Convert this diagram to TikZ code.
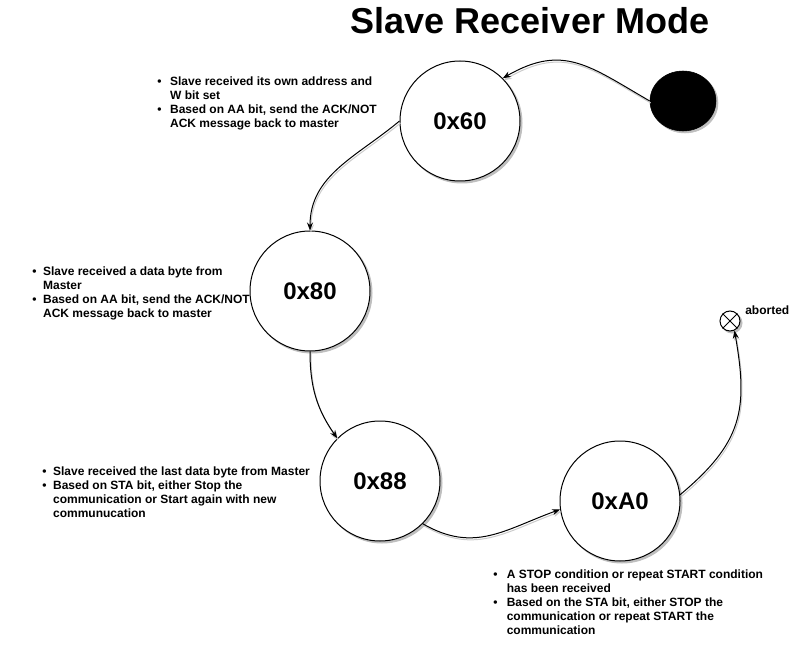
\documentclass[tikz,border=0pt]{standalone}
\usepackage{fontspec}
\setmainfont{Liberation Sans}
\usetikzlibrary{arrows.meta,shapes.geometric}

\begin{document}
\begin{tikzpicture}[x=0.75pt, y=-0.75pt,
  shadowed/.style={preaction={fill=black!25, draw=black!25, transform canvas={shift={(1.5pt,-1.5pt)}}}},
  state/.style={shape=circle, draw=black, line width=0.75pt, fill=white, minimum size=90pt, inner sep=0pt, font=\bfseries\fontsize{18}{20}\selectfont, shadowed},
  trans/.style={-{Stealth[length=6pt, width=4.5pt]}, line width=0.75pt, draw=black, preaction={draw=black!20, line width=0.75pt, transform canvas={shift={(0.75pt,-1.5pt)}}}},
  note/.style={anchor=north west, inner sep=0pt, font=\bfseries\fontsize{9}{10.5}\selectfont}]
\useasboundingbox[fill=white] (0,0) rectangle (793,649);
\node[font=\bfseries\fontsize{27}{30}\selectfont] (title) at (530,21) {Slave Receiver Mode};
% states
\node[shape=ellipse, draw=black, fill=black, minimum width=49.5pt, minimum height=45pt, inner sep=0pt, shadowed] (start) at (683,101) {};
\node[state] (x60) at (460,121) {0x60};
\node[state] (x80) at (310,291) {0x80};
\node[state] (x88) at (380,481) {0x88};
\node[state] (xa0) at (620,501) {0xA0};
\node[shape=circle, draw=black, line width=0.75pt, fill=white, minimum size=15pt, inner sep=0pt, shadowed] (abort) at (730,321) {};
\draw[line width=0.6pt] (abort.45) -- (abort.225);
\draw[line width=0.6pt] (abort.135) -- (abort.-45);
\node[anchor=west, inner sep=0pt, font=\bfseries\fontsize{9}{10.5}\selectfont] (abortlbl) at (745,310) {aborted};
% transitions
\draw [trans] (start.west) to [out=150, in=30, looseness=1.2] (x60.45);
\draw [trans] (x60.west) to [out=-140, in=90] (x80.north);
\draw [trans] (x80.south) to [out=-90, in=125] (x88.135);
\draw [trans] (x88.-45) to [out=-30, in=200, looseness=1.1] (xa0.188);
\draw [trans] (xa0.6) to [out=40, in=-80, looseness=1.2] (abort.-65);
% notes
\node[note] (note60) at (157,75) {\begin{tabular}{@{}l@{\hspace{6.5pt}}l@{}}
\textbullet & Slave received its own address and\\
 & W bit set\\
\textbullet & Based on AA bit, send the ACK/NOT\\
 & ACK message back to master
\end{tabular}};
\node[note] (note80) at (32,265) {\begin{tabular}{@{}l@{\hspace{5pt}}l@{}}
\textbullet & Slave received a data byte from\\
 & Master\\
\textbullet & Based on AA bit, send the ACK/NOT\\
 & ACK message back to master
\end{tabular}};
\node[note] (note88) at (42,465) {\begin{tabular}{@{}l@{\hspace{5pt}}l@{}}
\textbullet & Slave received the last data byte from Master\\
\textbullet & Based on STA bit, either Stop the\\
 & communication or Start again with new\\
 & communucation
\end{tabular}};
\node[note] (notea0) at (493,568) {\begin{tabular}{@{}l@{\hspace{7pt}}l@{}}
\textbullet & A STOP condition or repeat START condition\\
 & has been received\\
\textbullet & Based on the STA bit, either STOP the\\
 & communication or repeat START the\\
 & communication
\end{tabular}};
\end{tikzpicture}
\end{document}
